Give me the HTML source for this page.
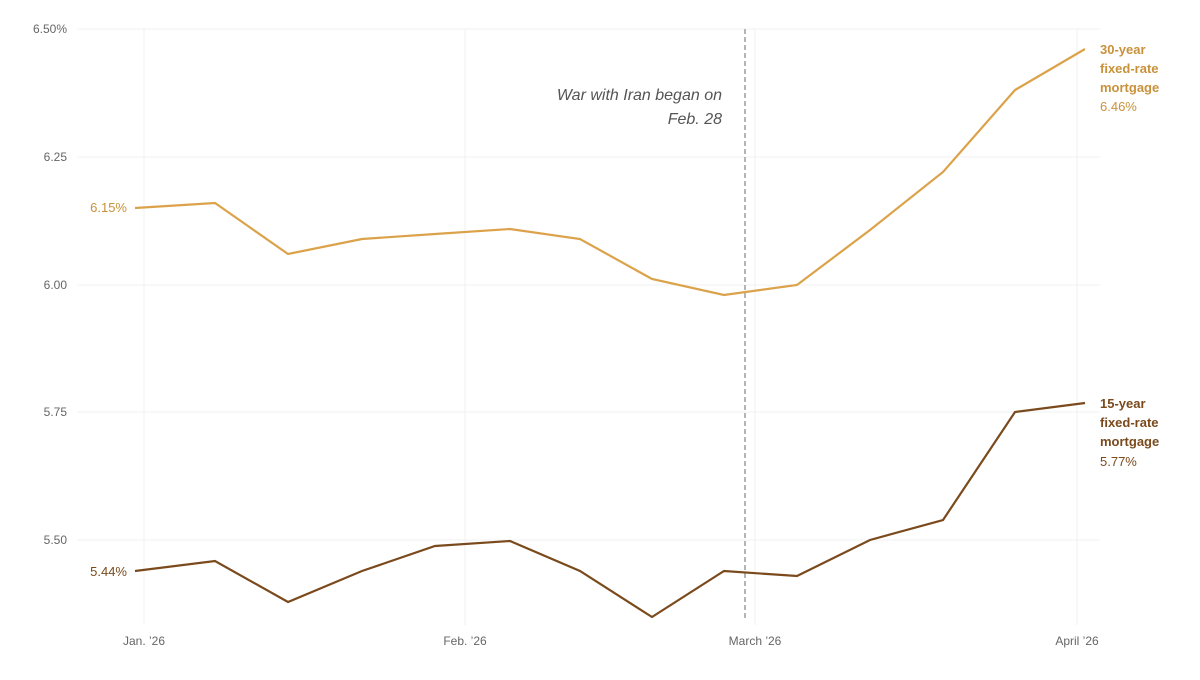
<!DOCTYPE html>
<html><head><style>
body{margin:0;background:#fff;}
svg text{font-family:"Liberation Sans",sans-serif;}
</style></head><body>
<svg width="1200" height="675" xmlns="http://www.w3.org/2000/svg">
<g stroke="#f0f0f0" stroke-width="1">
<line x1="77" y1="29" x2="1100" y2="29"/>
<line x1="77" y1="157" x2="1100" y2="157"/>
<line x1="77" y1="285" x2="1100" y2="285"/>
<line x1="77" y1="412" x2="1100" y2="412"/>
<line x1="77" y1="540" x2="1100" y2="540"/>
<line x1="144" y1="29" x2="144" y2="625"/>
<line x1="465" y1="29" x2="465" y2="625"/>
<line x1="755" y1="29" x2="755" y2="625"/>
<line x1="1077" y1="29" x2="1077" y2="625"/>
</g>
<g font-size="12" fill="#666" text-anchor="end">
<text x="67" y="33">6.50%</text>
<text x="67" y="161">6.25</text>
<text x="67" y="289">6.00</text>
<text x="67" y="416">5.75</text>
<text x="67" y="544">5.50</text>
</g>
<g font-size="12" fill="#666" text-anchor="middle">
<text x="144" y="645">Jan. ’26</text>
<text x="465" y="645">Feb. ’26</text>
<text x="755" y="645">March ’26</text>
<text x="1077" y="645">April ’26</text>
</g>
<line x1="745" y1="29" x2="745" y2="620" stroke="#b5b5b5" stroke-width="2" stroke-dasharray="5,3"/>
<text x="722" y="100" font-size="16" font-style="italic" fill="#555" text-anchor="end">War with Iran began on</text>
<text x="722" y="124" font-size="16" font-style="italic" fill="#555" text-anchor="end">Feb. 28</text>
<polyline fill="none" stroke="#dba24a" stroke-width="2.2" points="135,208 215,203 288,254 362,239 435,234 510,229 580,239 652,279 724,295 797,285 870,230 943,172 1015,90 1085,49"/>
<polyline fill="none" stroke="#7a4a1c" stroke-width="2.2" points="135,571 215,561 288,602 362,571 435,546 510,541 580,571 652,617 724,571 797,576 870,540 943,520 1015,412 1085,403"/>
<text x="127" y="212" font-size="13" fill="#c9913a" text-anchor="end">6.15%</text>
<text x="127" y="576" font-size="13" fill="#7a4a1c" text-anchor="end">5.44%</text>
<g font-size="13" font-weight="bold" fill="#c9913a">
<text x="1100" y="54">30-year</text>
<text x="1100" y="73">fixed-rate</text>
<text x="1100" y="92">mortgage</text>
<text x="1100" y="111" font-weight="normal">6.46%</text>
</g>
<g font-size="13" font-weight="bold" fill="#7a4a1c">
<text x="1100" y="408">15-year</text>
<text x="1100" y="427">fixed-rate</text>
<text x="1100" y="446">mortgage</text>
<text x="1100" y="466" font-weight="normal">5.77%</text>
</g>
</svg>
</body></html>
